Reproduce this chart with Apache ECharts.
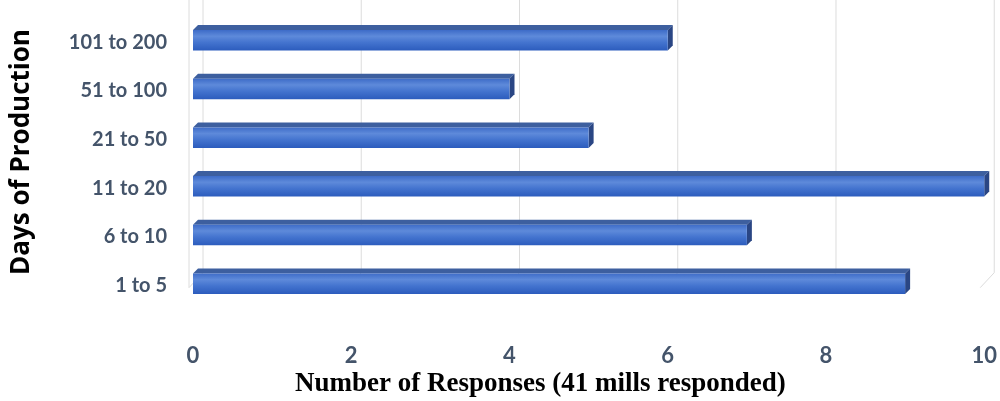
<!DOCTYPE html>
<html><head><meta charset="utf-8">
<script src="https://cdn.jsdelivr.net/npm/echarts@6/dist/echarts.min.js"></script>
<style>html,body{margin:0;padding:0;background:#fff}#c{width:1000px;height:401px}</style>
</head><body><div id="c"></div>
<script>
const categories = ['1 to 5','6 to 10','11 to 20','21 to 50','51 to 100','101 to 200'];
const responses = [9, 7, 10, 5, 4, 6];
const xTicks = [0, 2, 4, 6, 8, 10];
const xTitle = 'Number of Responses (41 mills responded)';
const yTitle = 'Days of Production';

const chart = echarts.init(document.getElementById('c'));
const D = 5;       // bar depth

function renderBar(params, api) {
  const cat = api.value(1), val = api.value(0);
  const s = api.coord([0, cat]);
  const e = api.coord([val, cat]);
  const bw = api.size([0, 1])[1];
  const h = bw * 0.42;
  const x0 = s[0], x1 = e[0];
  const yT = s[1] - h / 2 - 2, yB = yT + h;
  return {
    type: 'group',
    children: [
      { type: 'polygon', shape: { points: [[x0, yT], [x0 + D, yT - D], [x1 + D, yT - D], [x1, yT]] },
        style: { fill: '#3d5f9f' } },
      { type: 'polygon', shape: { points: [[x1, yT], [x1 + D, yT - D], [x1 + D, yB - D], [x1, yB]] },
        style: { fill: '#2a4684' } },
      { type: 'rect', shape: { x: x0, y: yT, width: x1 - x0, height: h },
        style: { fill: new echarts.graphic.LinearGradient(0, 0, 0, 1, [
          { offset: 0, color: '#3e6cc8' }, { offset: 0.3, color: '#5e8ada' },
          { offset: 0.6, color: '#4474cf' }, { offset: 1, color: '#2c5cbd' }]) } }
    ]
  };
}

function renderGrid(params, api) {
  const v = api.value(0);
  const top = api.coord([v, categories.length - 0.5]);
  const bot = api.coord([v, -0.5]);
  const x = top[0];
  const pts = [[x + 10, top[1] - 8], [x + 10, bot[1] - 13], [x - 4, bot[1] + 2]];
  if (v === 0) pts.push([x - 4, top[1] - 8]);
  return {
    type: 'polyline',
    shape: { points: pts },
    style: { stroke: '#dcdcdc', lineWidth: 1, fill: null }
  };
}

chart.setOption({
  backgroundColor: '#fff',
  animation: false,
  grid: { left: 193, right: 10, top: 18, bottom: 91 },
  title: {
    text: xTitle, left: 295, top: 371,
    textStyle: { fontFamily: 'Liberation Serif', fontWeight: 'bold', fontSize: 27, color: '#000' }, padding: 0
  },
  graphic: [{
    type: 'text', x: 22, y: 152, rotation: Math.PI / 2,
    style: { text: yTitle, align: 'center', verticalAlign: 'middle',
      font: 'bold 26px "Open Sans"', fill: '#000' }
  }],
  xAxis: {
    type: 'value', min: 0, max: 10, interval: 2,
    axisLine: { show: false }, axisTick: { show: false }, splitLine: { show: false },
    axisLabel: { margin: 35, fontSize: 22, fontWeight: 'bold', color: '#44546a', fontFamily: 'Lato', formatter: v => xTicks.includes(v) ? String(v) : '' }
  },
  yAxis: {
    type: 'category', data: categories,
    axisLine: { show: false }, axisTick: { show: false }, splitLine: { show: false },
    axisLabel: { margin: 26, fontSize: 20, fontWeight: 'bold', color: '#44546a', fontFamily: 'Lato' }
  },
  series: [
    { type: 'custom', renderItem: renderGrid, data: xTicks.map(v => [v, 0]), silent: true, z: 1 },
    { type: 'custom', renderItem: renderBar, data: responses.map((v, i) => [v, i]), z: 2 }
  ]
});
</script></body></html>
